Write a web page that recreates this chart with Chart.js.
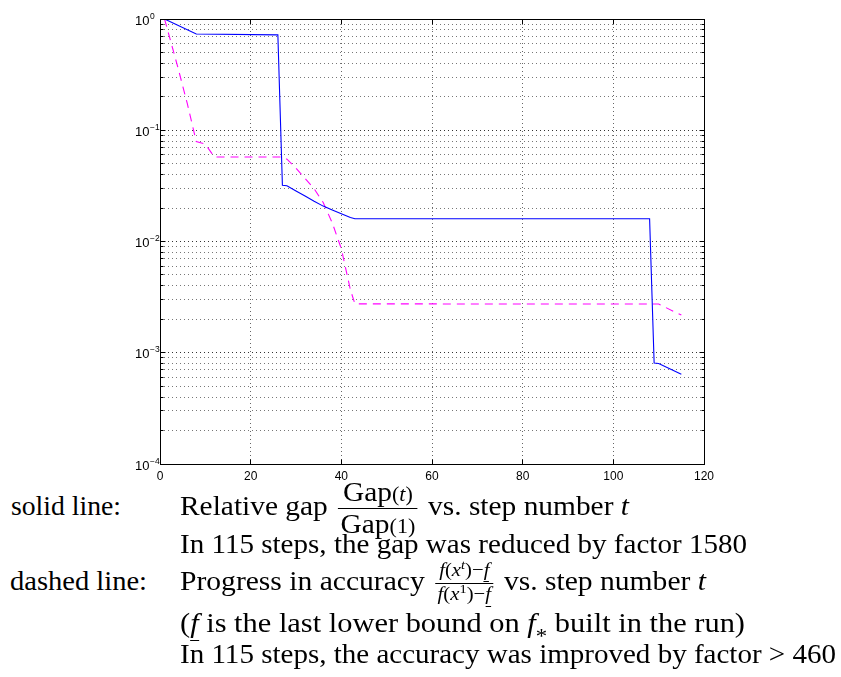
<!DOCTYPE html>
<html>
<head>
<meta charset="utf-8">
<script src="https://cdn.jsdelivr.net/npm/chart.js@4.4.1/dist/chart.umd.min.js"></script>
<style>
  html, body { margin:0; padding:0; background:#fff; }
  body { width:841px; height:677px; position:relative; overflow:hidden; }
  #c { position:absolute; left:0; top:0; }
  .t { position:absolute; left:0; top:0; white-space:nowrap; font-family:'Liberation Serif', 'Times New Roman', serif;
       font-size:27px; line-height:1; color:#000; transform-origin:0 0; }
  .bl { display:inline-block; width:0; height:0; }
  .frac { display:inline-block; vertical-align:middle; text-align:center; line-height:1; margin:0 3px; }
  .frac .n { display:block; border-bottom:1px solid #000; padding:0 2px 2px; }
  .frac .d { display:block; padding:2px 2px 0; }
  .frac.sm { font-size:0.7em; }
  .frac.sm .n { padding-bottom:1px; }
  .frac.sm .d { padding-top:1px; }
  .sc { font-size:0.75em; }
  .sup { font-size:0.7em; vertical-align:0.55em; line-height:0; }
  .sub { font-size:0.75em; vertical-align:-0.55em; line-height:0; }
  .u { display:inline-block; border-bottom:1px solid #000; line-height:1; padding-bottom:0.1em; font-style:italic; }
  i { font-style:italic; }
</style>
</head>
<body>
<canvas id="c" width="841" height="490"></canvas>

<div class="t" data-l="11" data-r="121" data-b="515">solid line:<span class="bl"></span></div>
<div class="t" data-l="180" data-r="629" data-b="515">Relative gap <span class="frac"><span class="n">Gap<span class="sc">(<i>t</i>)</span></span><span class="d">Gap<span class="sc">(1)</span></span></span> vs. step number <i>t</i><span class="bl"></span></div>
<div class="t" data-l="180" data-r="747" data-b="553">In 115 steps, the gap was reduced by factor 1580<span class="bl"></span></div>
<div class="t" data-l="10" data-r="147" data-b="590">dashed line:<span class="bl"></span></div>
<div class="t" data-l="180" data-r="706" data-b="590">Progress in accuracy <span class="frac sm"><span class="n"><i>f</i>(<i>x</i><span class="sup"><i>t</i></span>)−<span class="u">f</span></span><span class="d"><i>f</i>(<i>x</i><span class="sup">1</span>)−<span class="u">f</span></span></span> vs. step number <i>t</i><span class="bl"></span></div>
<div class="t" data-l="180" data-r="745" data-b="632">(<span class="u">f</span> is the last lower bound on <i>f</i><span class="sub">*</span> built in the run)<span class="bl"></span></div>
<div class="t" data-l="180" data-r="836" data-b="663">In 115 steps, the accuracy was improved by factor &gt; 460<span class="bl"></span></div>

<script>
// ---------- data ----------
const gapSteps = [1, 8, 26, 27, 28, 30, 32, 34, 36, 38, 40, 42, 43, 108, 109, 110, 115];
const gapRelative = [1.0, 0.733, 0.72, 0.0320, 0.0317, 0.0285, 0.0256, 0.0230, 0.0208, 0.0192, 0.0178, 0.0164, 0.0160, 0.0160, 0.00081, 0.00080, 0.00064];

const accSteps = [1, 4, 6, 8, 10, 12, 27, 28, 30, 32, 34, 36, 38, 40, 42, 43, 110, 115];
const accRelative = [1.0, 0.36, 0.175, 0.079, 0.075, 0.0574, 0.0574, 0.0550, 0.0455, 0.0368, 0.0298, 0.0224, 0.0147, 0.0086, 0.00368, 0.00275, 0.00274, 0.00218];

const xTickValues = [0, 20, 40, 60, 80, 100, 120];
const yDecadeExponents = [-4, -3, -2, -1, 0];
const yMinorMultipliers = [2, 3, 4, 5, 6, 7, 8, 9];

// ---------- build ----------
const yTickValues = [];
yDecadeExponents.forEach(e => {
  yTickValues.push(Math.pow(10, e));
  if (e < 0) yMinorMultipliers.forEach(m => yTickValues.push(+(m * Math.pow(10, e)).toPrecision(6)));
});
yTickValues.sort((a, b) => a - b);
const isDecade = v => Math.abs(Math.log10(v) - Math.round(Math.log10(v))) < 1e-9;

const toPts = (xs, ys) => xs.map((x, i) => ({ x: x, y: ys[i] }));
const align = (p) => Math.round(p - 0.5) + 0.5;

const frame = {
  id: 'frame',
  afterDraw(chart) {
    const { ctx, chartArea, scales } = chart;
    const { left, right, top, bottom } = chartArea;
    const xs = scales.x, ys = scales.y;
    ctx.save();
    ctx.strokeStyle = '#000';
    ctx.lineWidth = 1;
    ctx.setLineDash([]);
    const L = align(left), R = align(right), T = align(top), B = align(bottom);
    ctx.beginPath();
    xTickValues.forEach(v => {
      const px = align(xs.getPixelForValue(v));
      ctx.moveTo(px, B); ctx.lineTo(px, B - 5);
      ctx.moveTo(px, T); ctx.lineTo(px, T + 5);
    });
    yTickValues.forEach(v => {
      const py = align(ys.getPixelForValue(v));
      const len = isDecade(v) ? 5 : 3;
      ctx.moveTo(L, py); ctx.lineTo(L + len, py);
      ctx.moveTo(R, py); ctx.lineTo(R - len, py);
    });
    ctx.stroke();
    ctx.strokeRect(L, T, R - L, B - T);
    // y labels 10^e
    ctx.fillStyle = '#000';
    yDecadeExponents.forEach(e => {
      const py = ys.getPixelForValue(Math.pow(10, e));
      ctx.font = '13px "Liberation Sans", Arial, sans-serif';
      ctx.textAlign = 'right';
      ctx.textBaseline = 'alphabetic';
      ctx.fillText('10', left - 10.5, py + 5.5);
      ctx.font = '8.5px "Liberation Sans", Arial, sans-serif';
      ctx.textAlign = 'left';
      ctx.fillText(e === 0 ? '0' : '\u2212' + Math.abs(e), left - 10, py - 0.5);
    });
    ctx.restore();
  }
};

new Chart(document.getElementById('c'), {
  type: 'line',
  data: {
    datasets: [
      {
        label: 'Relative gap',
        data: toPts(gapSteps, gapRelative),
        borderColor: '#0000ff',
        borderWidth: 1.1,
        pointRadius: 0,
        tension: 0,
        fill: false
      },
      {
        label: 'Progress in accuracy',
        data: toPts(accSteps, accRelative),
        borderColor: '#ff00ff',
        borderWidth: 1.1,
        borderDash: [8, 6],
        pointRadius: 0,
        tension: 0,
        fill: false
      }
    ]
  },
  options: {
    responsive: false,
    animation: false,
    events: [],
    layout: { padding: { left: 160, right: 137, top: 19, bottom: 1.6 } },
    plugins: { legend: { display: false }, tooltip: { enabled: false } },
    scales: {
      x: {
        type: 'linear', min: 0, max: 120,
        ticks: {
          stepSize: 20, color: '#000', padding: 5, maxRotation: 0, autoSkip: false,
          font: { family: '"Liberation Sans", Arial, sans-serif', size: 12 }
        },
        grid: {
          drawTicks: false, lineWidth: 1,
          color: (c) => (c.tick && (c.tick.value === 0 || c.tick.value === 120)) ? 'rgba(0,0,0,0)' : '#666'
        },
        border: { display: false, dash: [1, 3] }
      },
      y: {
        type: 'logarithmic', min: 1e-4, max: 1,
        afterBuildTicks: (s) => { s.ticks = yTickValues.map(v => ({ value: v, major: isDecade(v) })); },
        ticks: { display: false },
        grid: {
          drawTicks: false, lineWidth: 1,
          color: (c) => {
            if (!c.tick) return '#777';
            const v = c.tick.value;
            if (v <= 1e-4 * 1.0001 || v >= 0.9999) return 'rgba(0,0,0,0)';
            return isDecade(v) ? '#333' : '#777';
          }
        },
        border: { display: false, dash: [1, 3] }
      }
    }
  },
  plugins: [frame]
});

// ---------- text placement ----------
function fitText() {
  document.querySelectorAll('.t').forEach(el => {
    const L = +el.dataset.l, R = +el.dataset.r, B = +el.dataset.b;
    el.style.transform = 'none';
    el.style.left = L + 'px';
    el.style.top = '0px';
    const w = el.getBoundingClientRect().width;
    const bl = el.querySelector('.bl').getBoundingClientRect().top;
    el.style.top = (B - bl) + 'px';
    el.style.transform = 'scaleX(' + ((R - L) / w) + ')';
  });
}
fitText();
if (document.fonts && document.fonts.ready) document.fonts.ready.then(fitText);
</script>
</body>
</html>
